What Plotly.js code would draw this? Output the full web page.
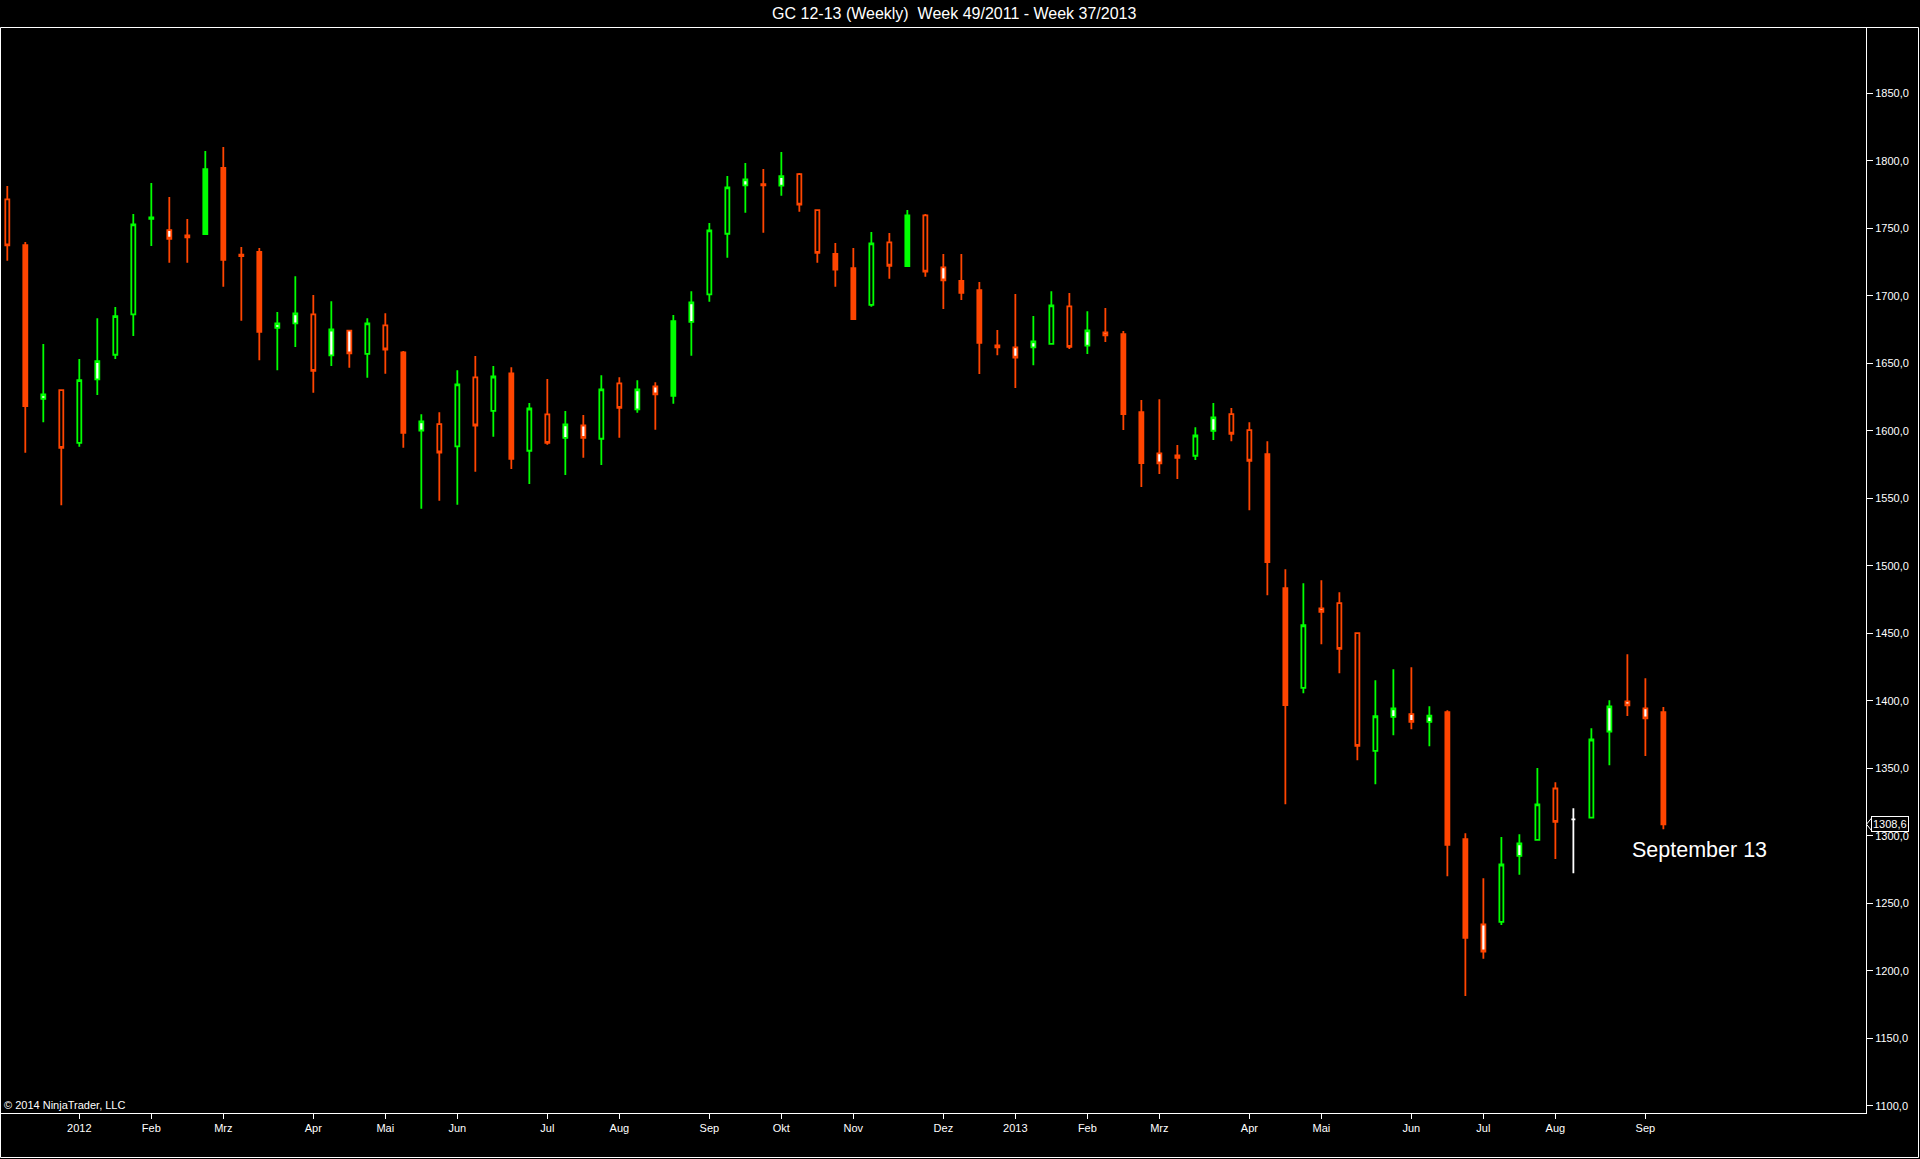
<!DOCTYPE html>
<html>
<head>
<meta charset="utf-8">
<script src="https://cdn.plot.ly/plotly-3.0.1.min.js"></script>
<style>
html,body{margin:0;padding:0;background:#000;}
#chart{width:1920px;height:1159px;}
</style>
</head>
<body>
<div id="chart"></div>
<script>
// ---- data (weekly bars, Friday dates) ----
const dates = [
'2011-12-09','2011-12-16','2011-12-23','2011-12-30',
'2012-01-06','2012-01-13','2012-01-20','2012-01-27','2012-02-03','2012-02-10','2012-02-17','2012-02-24',
'2012-03-02','2012-03-09','2012-03-16','2012-03-23','2012-03-30','2012-04-06','2012-04-13','2012-04-20','2012-04-27',
'2012-05-04','2012-05-11','2012-05-18','2012-05-25','2012-06-01','2012-06-08','2012-06-15','2012-06-22','2012-06-29',
'2012-07-06','2012-07-13','2012-07-20','2012-07-27','2012-08-03','2012-08-10','2012-08-17','2012-08-24','2012-08-31',
'2012-09-07','2012-09-14','2012-09-21','2012-09-28','2012-10-05','2012-10-12','2012-10-19','2012-10-26',
'2012-11-02','2012-11-09','2012-11-16','2012-11-23','2012-11-30','2012-12-07','2012-12-14','2012-12-21','2012-12-28',
'2013-01-04','2013-01-11','2013-01-18','2013-01-25','2013-02-01','2013-02-08','2013-02-15','2013-02-22',
'2013-03-01','2013-03-08','2013-03-15','2013-03-22','2013-03-29','2013-04-05','2013-04-12','2013-04-19','2013-04-26',
'2013-05-03','2013-05-10','2013-05-17','2013-05-24','2013-05-31','2013-06-07','2013-06-14','2013-06-21','2013-06-28',
'2013-07-05','2013-07-12','2013-07-19','2013-07-26','2013-08-02','2013-08-09','2013-08-16','2013-08-23','2013-08-30',
'2013-09-06','2013-09-13'
];
const opens = [
1771.4,1737.5,1623.7,1630.1,1591.1,1638.0,1656.3,1686.2,1757.0,1748.6,1744.7,1745.7,
1794.6,1730.5,1732.4,1676.3,1679.5,1686.2,1655.8,1674.1,1657.0,1678.0,1658.0,1600.2,1604.9,
1588.4,1639.5,1614.8,1642.5,1585.2,1612.1,1594.8,1603.9,1594.1,1635.1,1615.8,1632.8,1625.9,1680.7,
1701.0,1745.9,1781.7,1782.7,1781.5,1790.1,1763.4,1730.9,1720.5,1693.3,1739.5,1722.0,1759.5,1721.0,
1710.9,1704.2,1663.2,1661.7,1661.7,1664.4,1692.1,1663.0,1672.8,1671.6,1613.8,1583.2,1581.7,1581.5,
1600.0,1612.3,1600.5,1582.7,1483.4,1409.6,1468.4,1472.3,1450.1,1363.0,1388.1,1390.1,1384.4,
1391.7,1297.6,1234.4,1236.4,1285.2,1297.1,1335.1,1312.2,1313.6,1377.3,1399.6,1394.4,1391.7
];
const highs = [
1781.3,1739.7,1664.2,1630.5,1653.1,1683.4,1691.6,1760.5,1783.4,1773.1,1756.8,1807.1,
1810.1,1736.1,1735.4,1687.9,1714.5,1700.5,1696.0,1674.6,1683.4,1687.1,1659.0,1612.3,1613.8,
1644.9,1655.3,1647.9,1647.1,1620.5,1638.3,1614.6,1611.6,1641.2,1639.7,1637.5,1636.0,1685.7,1703.4,
1753.8,1788.6,1798.3,1793.8,1806.4,1790.9,1763.6,1739.0,1735.3,1747.2,1746.4,1763.4,1760.5,1730.9,
1730.9,1710.1,1674.6,1701.2,1684.9,1703.4,1702.0,1688.6,1690.9,1673.8,1622.7,1623.4,1589.4,1602.7,
1620.5,1616.8,1606.4,1592.3,1497.5,1487.1,1489.4,1480.5,1450.3,1415.3,1423.4,1424.9,1396.0,
1393.1,1302.0,1268.7,1299.1,1301.3,1350.2,1339.8,1320.5,1379.8,1400.5,1434.6,1416.8,1395.4
];
const lows = [
1725.9,1583.7,1606.4,1544.9,1588.1,1626.4,1653.1,1670.1,1736.8,1724.4,1724.4,1745.2,
1706.7,1681.5,1652.3,1644.9,1662.0,1628.1,1647.9,1646.6,1639.2,1642.2,1587.4,1542.2,1548.1,
1545.2,1569.6,1595.5,1571.6,1560.5,1589.6,1567.2,1580.0,1574.6,1594.8,1613.3,1600.7,1620.0,1655.5,
1695.5,1728.1,1761.5,1746.7,1774.1,1762.2,1724.4,1706.7,1682.5,1691.8,1712.6,1721.2,1714.1,1690.1,
1696.8,1642.0,1656.0,1631.6,1648.6,1664.4,1660.5,1656.8,1665.7,1600.5,1558.3,1567.9,1564.2,1578.3,
1593.1,1592.3,1541.2,1478.2,1323.4,1405.7,1441.9,1420.5,1356.0,1338.3,1374.5,1379.0,1366.4,
1270.2,1181.5,1209.0,1234.1,1271.2,1297.1,1282.8,1272.4,1313.6,1352.4,1388.7,1359.1,1305.0
];
const closes = [
1737.3,1618.3,1626.9,1587.4,1637.5,1651.6,1684.9,1752.8,1758.0,1742.2,1743.2,1793.8,
1726.6,1729.3,1673.3,1679.5,1686.9,1644.4,1675.0,1657.3,1679.5,1660.2,1598.5,1606.9,1583.9,
1634.3,1603.9,1640.2,1579.3,1616.5,1591.1,1604.7,1594.8,1630.6,1617.0,1630.6,1626.9,1681.2,1695.1,
1748.4,1780.2,1786.2,1781.7,1788.6,1767.4,1731.8,1719.3,1682.7,1738.8,1722.2,1759.5,1717.8,1711.3,
1702.2,1665.2,1661.7,1654.1,1666.2,1692.8,1662.2,1674.3,1670.6,1612.3,1576.0,1575.8,1580.0,1596.5,
1609.9,1597.8,1577.8,1502.7,1396.8,1456.0,1465.9,1438.5,1366.6,1388.6,1394.5,1384.4,1389.1,
1293.4,1224.5,1214.4,1278.8,1294.4,1323.3,1310.4,1312.2,1371.4,1395.9,1396.6,1387.0,1308.6
];
// body fill kind per bar: h = hollow, f = filled, w = white body, n = neutral (white doji)
const bodyKind = [
'h','f','w','h','h','w','h','h','f','w','w','f',
'f','f','f','w','w','h','w','w','h','h','f','w','h',
'h','h','h','f','h','h','w','w','h','h','w','w','f','w',
'h','h','w','f','w','h','h','f','f','h','h','f','h','w',
'f','f','w','w','w','h','h','w','w','f','f','w','w','h',
'w','h','h','f','f','h','w','h','h','h','w','w','w',
'f','f','w','h','w','h','h','n','h','w','w','w','f'
];
const monthTickDates = ['2012-01-06','2012-02-03','2012-03-02','2012-04-06','2012-05-04','2012-06-01','2012-07-06',
'2012-08-03','2012-09-07','2012-10-05','2012-11-02','2012-12-07','2013-01-04','2013-02-01','2013-03-01',
'2013-04-05','2013-05-03','2013-06-07','2013-07-05','2013-08-02','2013-09-06'];
const monthTickLabels = ['2012','Feb','Mrz','Apr','Mai','Jun','Jul','Aug','Sep','Okt','Nov','Dez',
'2013','Feb','Mrz','Apr','Mai','Jun','Jul','Aug','Sep'];
const lastPrice = 1308.6;
const lastPriceLabel = '1308,6';
const noteText = 'September 13';
const noteDate = '2013-09-27';
const notePrice = 1289.4;
const titleText = 'GC 12-13 (Weekly)\u00a0\u00a0Week 49/2011 - Week 37/2013';
const copyrightText = '\u00a9 2014 NinjaTrader, LLC';

// ---- styles ----
const RED = '#FF4500', GREEN = '#00FF00', WHITE = '#FFFFFF', BLACK = '#000000';
const FONT = 'Liberation Sans, Arial, sans-serif';
const LW = 1.8;
const styles = {
  h: {incLine: GREEN, incFill: BLACK, decLine: RED, decFill: BLACK},
  f: {incLine: GREEN, incFill: GREEN, decLine: RED, decFill: RED},
  w: {incLine: GREEN, incFill: WHITE, decLine: RED, decFill: WHITE},
  n: {incLine: WHITE, incFill: WHITE, decLine: WHITE, decFill: WHITE}
};

const traces = Object.keys(styles).map(k => {
  const idx = bodyKind.map((b, i) => b === k ? i : -1).filter(i => i >= 0);
  const s = styles[k];
  return {
    type: 'candlestick',
    x: idx.map(i => dates[i]),
    open: idx.map(i => opens[i]),
    high: idx.map(i => highs[i]),
    low: idx.map(i => lows[i]),
    close: idx.map(i => closes[i]),
    increasing: {line: {color: s.incLine, width: LW}, fillcolor: s.incFill},
    decreasing: {line: {color: s.decLine, width: LW}, fillcolor: s.decFill},
    whiskerwidth: 0,
    hoverinfo: 'skip',
    showlegend: false
  };
});

// plot area: x 1..1866 px, y 27..1113 px
const L = 1, R = 54, T = 27, B = 46, W = 1920, H = 1159;
const PW = W - L - R, PH = H - T - B;
const px = v => (v - L) / PW;
const py = v => (H - B - v) / PH;

const layout = {
  width: W, height: H,
  paper_bgcolor: BLACK, plot_bgcolor: BLACK,
  margin: {l: L, r: R, t: T, b: B, pad: 0},
  separators: ',.',
  showlegend: false,
  boxgap: 0.683, boxgroupgap: 0.3, boxmode: 'overlay',
  hovermode: false,
  title: {text: titleText, font: {family: FONT, size: 16, color: WHITE},
          x: 0.497, xref: 'container', xanchor: 'center', y: 1 - 13.5 / H, yref: 'container', yanchor: 'middle'},
  xaxis: {
    type: 'date', range: ['2011-12-06 13:10', '2013-11-30 19:00'],
    rangeslider: {visible: false},
    tickmode: 'array', tickvals: monthTickDates, ticktext: monthTickLabels,
    ticks: 'outside', ticklen: 5, tickwidth: 1, tickcolor: WHITE,
    tickfont: {family: FONT, size: 11, color: WHITE},
    showgrid: false, zeroline: false, showline: true, linecolor: WHITE, linewidth: 1,
    fixedrange: true
  },
  yaxis: {
    side: 'right', range: [1094.8, 1899],
    tickmode: 'linear', tick0: 1100, dtick: 50, tickformat: '.1f',
    ticks: 'outside', ticklen: 6, tickwidth: 1, tickcolor: WHITE,
    tickfont: {family: FONT, size: 11, color: WHITE},
    showgrid: false, zeroline: false, showline: true, linecolor: WHITE, linewidth: 1,
    fixedrange: true
  },
  shapes: [
    {type: 'rect', xref: 'paper', yref: 'paper', x0: px(0.5), x1: px(1918.5), y0: py(1157.5), y1: py(27.5),
     line: {color: WHITE, width: 1}, fillcolor: 'rgba(0,0,0,0)'},
    {type: 'path', xref: 'paper', yref: 'y',
     path: 'M ' + px(1871.5) + ',' + (lastPrice + 4.6) + ' L ' + px(1866.5) + ',' + lastPrice + ' L ' + px(1871.5) + ',' + (lastPrice - 4.6),
     line: {color: WHITE, width: 1}}
  ],
  annotations: [
    {text: noteText, xref: 'x', yref: 'y', x: noteDate, y: notePrice, showarrow: false,
     xanchor: 'center', yanchor: 'middle', font: {family: FONT, size: 21.5, color: WHITE}},
    {text: lastPriceLabel, xref: 'paper', yref: 'y', x: 1, y: lastPrice, xshift: 5, showarrow: false,
     xanchor: 'left', yanchor: 'middle', font: {family: FONT, size: 11, color: WHITE},
     bordercolor: WHITE, borderwidth: 1, borderpad: 1, bgcolor: BLACK},
    {text: copyrightText, xref: 'paper', yref: 'paper', x: 0, y: 0, xshift: 1, yshift: 0, showarrow: false,
     xanchor: 'left', yanchor: 'bottom', font: {family: FONT, size: 11, color: WHITE}}
  ]
};

Plotly.newPlot('chart', traces, layout, {displayModeBar: false, staticPlot: true});
</script>
</body>
</html>
